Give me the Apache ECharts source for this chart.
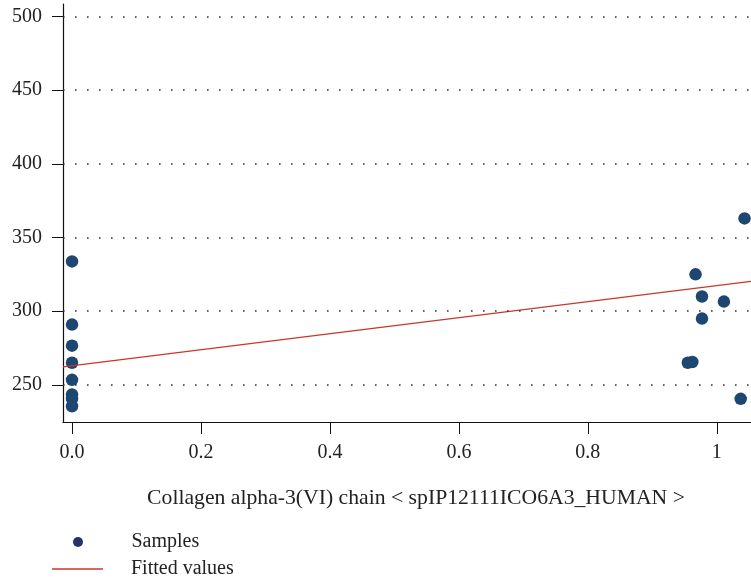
<!DOCTYPE html>
<html>
<head>
<meta charset="utf-8">
<script src="https://cdn.jsdelivr.net/npm/echarts@6/dist/echarts.min.js"></script>
<style>
  html, body { margin: 0; padding: 0; background: #fff; }
  #chart { width: 751px; height: 581px; }
</style>
</head>
<body>
<div id="chart"></div>
<script>
// Protein abundance (x) against the measured response (y)
const sampleX = [0, 0, 0, 0, 0, 0, 0, 0,
                 1.043, 0.967, 0.977, 1.011, 0.977, 0.955, 0.962, 1.037];
const sampleY = [333.8, 290.9, 276.6, 265.0, 253.4, 243.5, 240.5, 235.5,
                 363.0, 325.0, 310.0, 306.5, 295.0, 265.0, 265.5, 240.5];

// Fitted regression line, given by its two end points
const fitX = [-0.014, 1.053];
const fitY = [262.2, 320.3];

// Tick labels
const xTicks = [0, 0.2, 0.4, 0.6, 0.8, 1];
const yTicks = [250, 300, 350, 400, 450, 500];

const xTitle = 'Collagen alpha-3(VI) chain < spIP12111ICO6A3_HUMAN >';
const serif = '"Liberation Serif", "DejaVu Serif", serif';

const samples = sampleX.map((x, i) => [x, sampleY[i]]);
const fitted = fitX.map((x, i) => [x, fitY[i]]);

const legendText = { fontFamily: serif, fontSize: 20, color: '#222', padding: [0, 0, 0, 23] };

const chart = echarts.init(document.getElementById('chart'));
chart.setOption({
  animation: false,
  backgroundColor: '#ffffff',
  textStyle: { fontFamily: serif },
  grid: { left: 63, right: 0, top: 4, bottom: 159 },
  legend: [
    {
      left: 68,
      top: 527,
      itemWidth: 51,
      itemHeight: 10,
      textStyle: legendText,
      data: [{ name: 'Samples', icon: 'circle', itemStyle: { color: '#263266' } }]
    },
    {
      left: 47,
      top: 554,
      itemWidth: 51,
      itemHeight: 1.4,
      textStyle: legendText,
      data: [{ name: 'Fitted values', icon: 'rect', itemStyle: { color: '#c8372a' } }]
    }
  ],
  xAxis: {
    type: 'value',
    min: -0.014,
    max: 1.053,
    name: xTitle,
    nameLocation: 'middle',
    nameGap: 65,
    nameTextStyle: { fontFamily: serif, fontSize: 21.7, color: '#222', padding: [0, 0, 0, 18] },
    axisLine: { show: true, onZero: false, lineStyle: { color: '#111', width: 1.2 } },
    axisTick: { show: true, customValues: xTicks, length: 12, lineStyle: { color: '#111' } },
    axisLabel: {
      customValues: xTicks,
      margin: 21,
      fontFamily: serif,
      fontSize: 20,
      color: '#222',
      formatter: v => (v === 1 ? '1' : v.toFixed(1))
    },
    splitLine: { show: false }
  },
  yAxis: {
    type: 'value',
    min: 224.8,
    max: 508.5,
    axisLine: { show: true, onZero: false, lineStyle: { color: '#111', width: 1.2 } },
    axisTick: { show: true, customValues: yTicks, length: 11, lineStyle: { color: '#111' } },
    axisLabel: {
      customValues: yTicks,
      margin: 21,
      fontFamily: serif,
      fontSize: 20,
      color: '#222'
    },
    splitLine: { show: false }
  },
  series: [
    {
      name: 'Samples',
      type: 'scatter',
      data: samples,
      symbolSize: 12.5,
      itemStyle: { color: '#1d4671', opacity: 1 },
      z: 3,
      markLine: {
        silent: true,
        symbol: 'none',
        label: { show: false },
        lineStyle: { color: '#333', width: 1.6, type: [1.6, 10.4], dashOffset: 0 },
        data: yTicks.map(v => ({ yAxis: v }))
      }
    },
    {
      name: 'Fitted values',
      type: 'line',
      data: fitted,
      symbol: 'none',
      lineStyle: { color: '#c8372a', width: 1.3 },
      itemStyle: { color: '#c8372a' },
      z: 4
    }
  ]
});
</script>
</body>
</html>
